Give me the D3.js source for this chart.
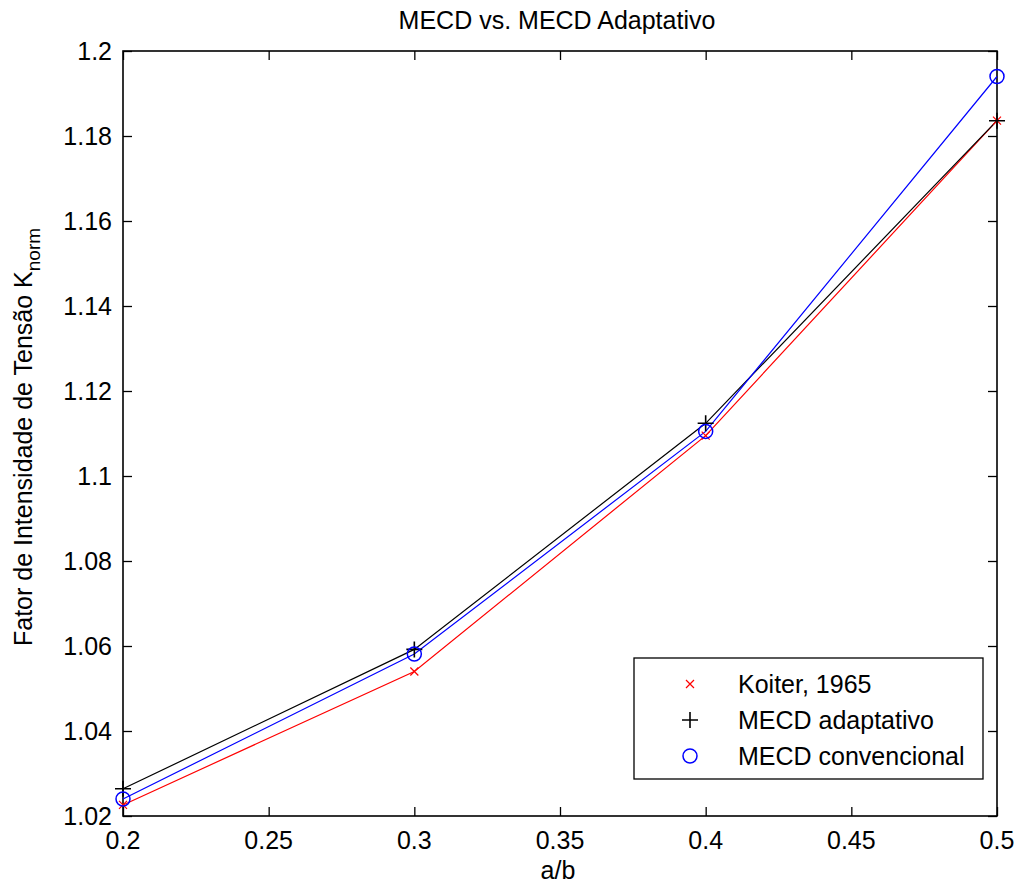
<!DOCTYPE html>
<html>
<head>
<meta charset="utf-8">
<script src="https://cdn.jsdelivr.net/npm/d3@7"></script>
<style>
  body { margin: 0; background: #fff; }
  svg text { font-family: "Liberation Sans", Arial, sans-serif; fill: #000; }
</style>
</head>
<body>
<svg id="chart" width="1017" height="886"></svg>
<script>
// data
var ab = [0.2, 0.3, 0.4, 0.5];
var koiter = [1.0226, 1.0540, 1.1095, 1.1836];
var mecdAdapt = [1.0264, 1.0592, 1.1124, 1.1836];
var mecdConv = [1.0240, 1.0581, 1.1105, 1.1940];
var xTicks = [0.2, 0.25, 0.3, 0.35, 0.4, 0.45, 0.5];
var yTicks = [1.02, 1.04, 1.06, 1.08, 1.1, 1.12, 1.14, 1.16, 1.18, 1.2];

var series = [
  { name: "Koiter, 1965", values: koiter, color: "#ff0000", marker: "x" },
  { name: "MECD adaptativo", values: mecdAdapt, color: "#000000", marker: "+" },
  { name: "MECD convencional", values: mecdConv, color: "#0000ff", marker: "o" }
];

var svg = d3.select("#chart"),
    plotLeft = 123, plotRight = 997, plotTop = 51, plotBottom = 816;

var xScale = d3.scaleLinear().domain([0.2, 0.5]).range([plotLeft, plotRight]),
    yScale = d3.scaleLinear().domain([1.02, 1.2]).range([plotBottom, plotTop]);

function fmt(d) { return String(+d.toFixed(2)); }

var tickLen = 9;

// ticks on all four sides, pointing inward
svg.append("g")
    .attr("transform", "translate(0," + plotBottom + ")")
    .call(d3.axisTop(xScale).tickValues(xTicks).tickSize(tickLen).tickFormat(""))
    .call(function(g) { g.select(".domain").remove(); });
svg.append("g")
    .attr("transform", "translate(0," + plotTop + ")")
    .call(d3.axisBottom(xScale).tickValues(xTicks).tickSize(tickLen).tickFormat(""))
    .call(function(g) { g.select(".domain").remove(); });
svg.append("g")
    .attr("transform", "translate(" + plotLeft + ",0)")
    .call(d3.axisRight(yScale).tickValues(yTicks).tickSize(tickLen).tickFormat(""))
    .call(function(g) { g.select(".domain").remove(); });
svg.append("g")
    .attr("transform", "translate(" + plotRight + ",0)")
    .call(d3.axisLeft(yScale).tickValues(yTicks).tickSize(tickLen).tickFormat(""))
    .call(function(g) { g.select(".domain").remove(); });

svg.selectAll(".tick line").attr("stroke", "#000").attr("stroke-width", 1.3);

// box
svg.append("rect")
    .attr("x", plotLeft).attr("y", plotTop)
    .attr("width", plotRight - plotLeft).attr("height", plotBottom - plotTop)
    .attr("fill", "none").attr("stroke", "#000").attr("stroke-width", 1.6);

// tick labels
svg.append("g").selectAll("text")
    .data(xTicks).enter().append("text")
    .attr("x", function(d) { return xScale(d); })
    .attr("y", 849)
    .attr("text-anchor", "middle")
    .style("font-size", "25px")
    .text(fmt);

svg.append("g").selectAll("text")
    .data(yTicks).enter().append("text")
    .attr("x", plotLeft - 11)
    .attr("y", function(d) { return yScale(d) + 9; })
    .attr("text-anchor", "end")
    .style("font-size", "25px")
    .text(fmt);

// title and axis labels
svg.append("text")
    .attr("x", 557).attr("y", 29)
    .attr("text-anchor", "middle")
    .style("font-size", "25px")
    .text("MECD vs. MECD Adaptativo");

svg.append("text")
    .attr("x", 558).attr("y", 879)
    .attr("text-anchor", "middle")
    .style("font-size", "25px")
    .text("a/b");

var yl = svg.append("text")
    .attr("transform", "translate(32,437) rotate(-90)")
    .attr("text-anchor", "middle")
    .style("font-size", "25px");
yl.append("tspan").text("Fator de Intensidade de Tensão K");
yl.append("tspan").attr("dy", 8).style("font-size", "19px").text("norm");

// lines
var line = d3.line()
    .x(function(d, i) { return xScale(ab[i]); })
    .y(function(d) { return yScale(d); });

series.forEach(function(s) {
  svg.append("path")
      .datum(s.values)
      .attr("fill", "none")
      .attr("stroke", s.color)
      .attr("stroke-width", 1.2)
      .attr("d", line);
});

function drawMarker(g, type, x, y, color) {
  if (type === "x") {
    var h = 4;
    g.append("path")
        .attr("d", "M" + (x - h) + "," + (y - h) + "L" + (x + h) + "," + (y + h) +
                   "M" + (x - h) + "," + (y + h) + "L" + (x + h) + "," + (y - h))
        .attr("stroke", color).attr("stroke-width", 1.2);
  } else if (type === "+") {
    var p = 8;
    g.append("path")
        .attr("d", "M" + (x - p) + "," + y + "L" + (x + p) + "," + y +
                   "M" + x + "," + (y - p) + "L" + x + "," + (y + p))
        .attr("stroke", color).attr("stroke-width", 1.6);
  } else {
    g.append("circle")
        .attr("cx", x).attr("cy", y).attr("r", 7)
        .attr("fill", "none").attr("stroke", color).attr("stroke-width", 1.5);
  }
}

series.forEach(function(s) {
  var g = svg.append("g");
  s.values.forEach(function(v, i) {
    drawMarker(g, s.marker, xScale(ab[i]), yScale(v), s.color);
  });
});

// legend
var lg = svg.append("g");
lg.append("rect")
    .attr("x", 634).attr("y", 658).attr("width", 349).attr("height", 121)
    .attr("fill", "#fff").attr("stroke", "#000").attr("stroke-width", 1.3);

series.forEach(function(s, i) {
  var yy = 684 + i * 36;
  drawMarker(lg, s.marker, 690, yy, s.color);
  lg.append("text")
      .attr("x", 738).attr("y", yy + 9)
      .style("font-size", "25px")
      .text(s.name);
});
</script>
</body>
</html>
